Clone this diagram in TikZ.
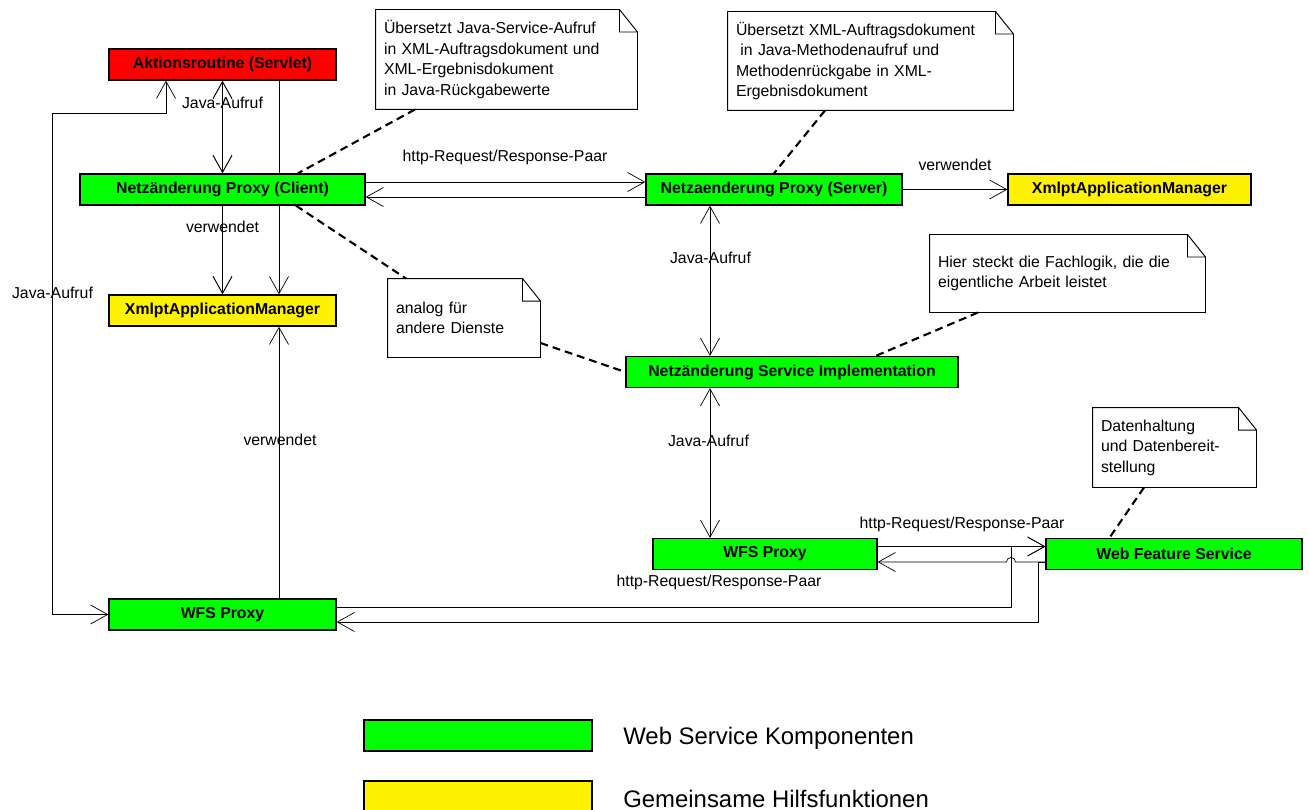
\documentclass[tikz,border=0pt]{standalone}
\usepackage{fontspec}
\setmainfont{Liberation Sans}
\usetikzlibrary{arrows.meta,backgrounds}

\begin{document}
\begin{tikzpicture}[
    >={Straight Barb[length=0.34cm,width=0.38cm]},
    box/.style={draw, line width=0.8pt, minimum height=0.62cm, inner sep=0pt,
        font=\fontsize{9}{11}\selectfont\bfseries},
    comp/.style={box, fill=green},
    helper/.style={box, fill=yellow},
    lbl/.style={inner sep=1pt, font=\fontsize{9}{11}\selectfont},
    notebox/.style={align=left, inner xsep=0.16cm, inner ysep=0pt,
        font=\fontsize{9}{11.7}\selectfont},
    notelink/.style={line width=1.2pt, dash pattern=on 4.5pt off 2.8pt},
    legendtext/.style={anchor=west, inner sep=0pt, font=\fontsize{13.6}{16}\selectfont},
    line width=0.55pt]
    \useasboundingbox (0,0) rectangle (26.18,-16.2);
    % Components
    \node[box, fill=red, minimum width=4.54cm] (akt) at (4.45,-1.29) {Aktionsroutine (Servlet)};
    \node[comp, minimum width=5.70cm] (client) at (4.45,-3.79) {Netzänderung Proxy (Client)};
    \node[helper, minimum width=4.54cm] (mgrL) at (4.45,-6.21) {XmlptApplicationManager};
    \node[comp, minimum width=5.12cm] (server) at (15.48,-3.79) {Netzaenderung Proxy (Server)};
    \node[helper, minimum width=4.86cm] (mgrR) at (22.59,-3.79) {XmlptApplicationManager};
    \node[comp, minimum width=6.64cm] (impl) at (15.84,-7.44) {Netzänderung Service Implementation};
    \node[comp, minimum width=4.48cm] (wfspR) at (15.30,-11.08) {WFS Proxy};
    \node[comp, minimum width=5.12cm] (wfs) at (23.48,-11.08) {Web Feature Service};
    \node[comp, minimum width=4.54cm] (wfspL) at (4.45,-12.29) {WFS Proxy};
    % Notes
    \node[notebox, text width=4.90cm, minimum height=1.98cm] (noteA) at (10.13,-1.19)
        {Übersetzt Java-Service-Aufruf\\in XML-Auftragsdokument und\\XML-Ergebnisdokument\\in Java-Rückgabewerte};
    \node[notebox, text width=5.38cm, minimum height=1.96cm] (noteB) at (17.41,-1.22)
        {Übersetzt XML-Auftragsdokument\\\hspace*{0.28em}in Java-Methodenaufruf und\\Methodenrückgabe in XML-\\Ergebnisdokument};
    \node[notebox, text width=2.72cm, minimum height=1.56cm] (noteC) at (9.28,-6.36)
        {analog für\\andere Dienste};
    \node[notebox, text width=5.18cm, minimum height=1.54cm] (noteD) at (21.35,-5.47)
        {Hier steckt die Fachlogik, die die\\eigentliche Arbeit leistet};
    \node[notebox, text width=2.94cm, minimum height=1.58cm] (noteE) at (23.49,-8.95)
        {Datenhaltung\\und Datenbereit-\\stellung};
    \foreach \n in {noteA,noteB,noteC,noteD,noteE}
        \draw (\n.south west) -- (\n.north west) -- ([xshift=-0.36cm]\n.north east)
            -- ([yshift=-0.45cm]\n.north east) -- (\n.south east) -- cycle
            ([xshift=-0.36cm]\n.north east) |- ([yshift=-0.45cm]\n.north east);
    % Left column
    \draw[<->] (akt.south) -- (client.north);
    \node[lbl] (jaA) at (4.45,-2.05) {Java-Aufruf};
    \draw[->] (client.south) -- (mgrL.north);
    \node[lbl] (vwA) at (4.45,-4.53) {verwendet};
    \begin{pgfonlayer}{background}
        \draw[->] ([xshift=1.13cm]akt.south) -- ([xshift=1.13cm]mgrL.north);
    \end{pgfonlayer}
    \draw[->] ([xshift=1.13cm]wfspL.north) -- ([xshift=1.13cm]mgrL.south);
    \node[lbl] (vwB) at (5.6,-8.8) {verwendet};
    \draw[<->] (wfspL.west) -| (1.04,-2.26) -| ([xshift=-1.13cm]akt.south);
    \node[lbl] (jaB) at (1.05,-5.86) {Java-Aufruf};
    % Client <-> Server
    \draw[->] ([yshift=0.15cm]client.east) -- ([yshift=0.15cm]server.west);
    \draw[->] ([yshift=-0.15cm]server.west) -- ([yshift=-0.15cm]client.east);
    \node[lbl] (httpA) at (10.1,-3.14) {http-Request/Response-Paar};
    \draw[->] (server.east) -- (mgrR.west);
    \node[lbl] (vwC) at (19.1,-3.3) {verwendet};
    % Server column
    \coordinate (javax) at (14.2,0);
    \draw[<->] (server.south -| javax) -- (impl.north -| javax);
    \node[lbl] (jaC) at (14.21,-5.16) {Java-Aufruf};
    \draw[<->] (impl.south -| javax) -- (wfspR.north -| javax);
    \node[lbl] (jaD) at (14.17,-8.81) {Java-Aufruf};
    % WFS Proxies <-> Web Feature Service
    \coordinate (wfsIn) at ([yshift=0.15cm]wfs.west);
    \coordinate (wfsOut) at ([yshift=-0.16cm]wfs.west);
    \coordinate (hopx) at (20.22,0);
    \coordinate (backx) at (20.76,0);
    \coordinate (hop) at (wfsOut -| hopx);
    \draw[->] (wfsIn -| wfspR.east) -- (wfsIn);
    \draw[->] (wfsOut) -- ([xshift=0.09cm]hop) arc[start angle=0, end angle=180, radius=0.09cm]
        -- (wfsOut -| wfspR.east);
    \node[lbl] (httpB) at (19.24,-10.48) {http-Request/Response-Paar};
    \node[lbl] (httpC) at (14.38,-11.65) {http-Request/Response-Paar};
    \draw[->] ([yshift=0.14cm]wfspL.east) -| (wfsIn -| hopx) -- (wfsIn);
    \draw[->] (wfsOut) -- (wfsOut -| backx) |- ([yshift=-0.15cm]wfspL.east);
    % Note links
    \draw[notelink] ([xshift=-1.83cm]noteA.south) -- ([xshift=1.51cm]client.north);
    \draw[notelink] ([xshift=-0.91cm]noteB.south) -- (server.north);
    \draw[notelink] ([xshift=1.47cm]client.south) -- ([xshift=-1.16cm]noteC.north);
    \draw[notelink] ([yshift=-0.50cm]noteC.east) -- (impl.west);
    \draw[notelink] ([xshift=-1.79cm]noteD.south) -- ([xshift=1.68cm]impl.north);
    \draw[notelink] ([xshift=-0.61cm]noteE.south) -- ([xshift=-1.29cm]wfs.north);
    % Legend
    \node[comp, minimum width=4.56cm] (lgA) at (9.56,-14.71) {};
    \node[helper, minimum width=4.56cm] (lgB) at (9.56,-15.93) {};
    \node[legendtext] (lgAtext) at (12.46,-14.76) {Web Service Komponenten};
    \node[legendtext] (lgBtext) at (12.46,-15.98) {Gemeinsame Hilfsfunktionen};
\end{tikzpicture}
\end{document}
